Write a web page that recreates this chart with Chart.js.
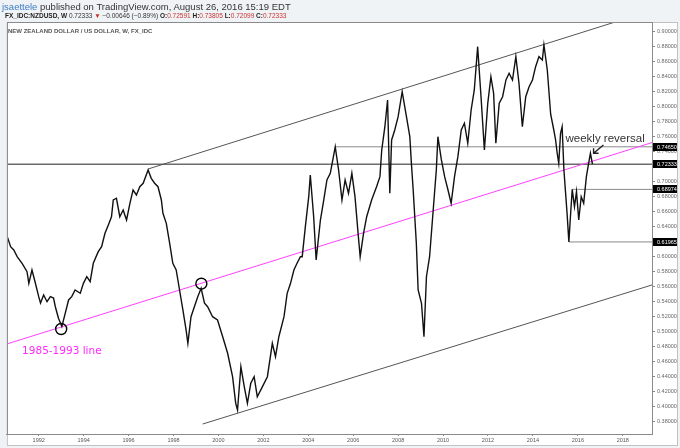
<!DOCTYPE html>
<html>
<head>
<meta charset="utf-8">
<script src="https://cdn.jsdelivr.net/npm/chart.js@4.4.1/dist/chart.umd.min.js"></script>
<style>
  html, body { margin: 0; padding: 0; background: #f0f3f6; }
  #wrap { position: relative; width: 680px; height: 448px; overflow: hidden; }
  #chart { position: absolute; left: 0; top: 0; }
  .txt { position: absolute; white-space: nowrap; font-family: "Liberation Sans", Arial, sans-serif; color: #333; }
  #line1 { left: 2px; top: 1px; font-size: 9.5px; line-height: 11px; }
  #line1 .user { color: #3b7dc4; }
  #line2 { left: 5px; top: 10px; font-size: 6.5px; line-height: 11px; }
  #line2 b { color: #222; }
  #line2 .red { color: #c8312f; }
  #title { left: 8px; top: 27px; font-size: 6px; line-height: 8px; font-weight: bold; color: #555; }
</style>
</head>
<body>
<div id="wrap">
  <canvas id="chart" width="680" height="448"></canvas>
  <div class="txt" id="line1"><span class="user">jsaettele</span> published on TradingView.com, August 26, 2016 15:19 EDT</div>
  <div class="txt" id="line2"><b>FX_IDC:NZDUSD, W</b> 0.72333 <span class="red">▼</span> −0.00646 (−0.89%) <b>O:</b><span class="red">0.72591</span> <b>H:</b><span class="red">0.73805</span> <b>L:</b><span class="red">0.72099</span> <b>C:</b><span class="red">0.72333</span></div>
  <div class="txt" id="title">NEW ZEALAND DOLLAR / US DOLLAR, W, FX_IDC</div>
</div>
<script>
(() => {
  'use strict'

  // weekly close (decimal year, price)
  const priceYears = [
    1990.60, 1990.75, 1990.89, 1991.04, 1991.26, 1991.48, 1991.56, 1991.70, 1991.85, 1992.00,
    1992.08, 1992.22, 1992.37, 1992.52, 1992.66, 1992.74, 1992.88, 1993.03, 1993.18, 1993.33,
    1993.47, 1993.62, 1993.85, 1993.99, 1994.14, 1994.29, 1994.43, 1994.65, 1994.80, 1994.95,
    1995.10, 1995.24, 1995.32, 1995.46, 1995.61, 1995.76, 1995.91, 1996.06, 1996.20, 1996.35,
    1996.50, 1996.65, 1996.87, 1997.01, 1997.16, 1997.31, 1997.46, 1997.53, 1997.68, 1997.83,
    1997.97, 1998.12, 1998.27, 1998.42, 1998.56, 1998.64, 1998.78, 1998.93, 1999.08, 1999.23,
    1999.38, 1999.52, 1999.74, 1999.96, 2000.19, 2000.41, 2000.63, 2000.77, 2000.85, 2001.00,
    2001.15, 2001.29, 2001.44, 2001.59, 2001.73, 2001.96, 2002.18, 2002.40, 2002.54, 2002.69,
    2002.92, 2003.06, 2003.21, 2003.36, 2003.50, 2003.65, 2003.73, 2003.87, 2004.02, 2004.09,
    2004.24, 2004.35, 2004.54, 2004.69, 2004.83, 2004.98, 2005.20, 2005.35, 2005.50, 2005.64,
    2005.79, 2005.94, 2006.08, 2006.23, 2006.31, 2006.46, 2006.60, 2006.82, 2007.04, 2007.19,
    2007.27, 2007.41, 2007.53, 2007.63, 2007.71, 2007.85, 2008.00, 2008.18, 2008.37, 2008.52,
    2008.59, 2008.67, 2008.81, 2008.89, 2009.04, 2009.15, 2009.26, 2009.40, 2009.55, 2009.70,
    2009.77, 2009.92, 2010.07, 2010.22, 2010.36, 2010.51, 2010.66, 2010.81, 2010.95, 2011.10,
    2011.25, 2011.39, 2011.54, 2011.69, 2011.84, 2011.99, 2012.13, 2012.25, 2012.35, 2012.50,
    2012.65, 2012.80, 2012.94, 2013.09, 2013.24, 2013.38, 2013.53, 2013.68, 2013.83, 2013.98,
    2014.12, 2014.27, 2014.42, 2014.49, 2014.64, 2014.79, 2014.93, 2015.01, 2015.08, 2015.15,
    2015.23, 2015.30, 2015.38, 2015.45, 2015.52, 2015.60, 2015.67, 2015.75, 2015.85, 2015.94,
    2016.04, 2016.15, 2016.26, 2016.38, 2016.48, 2016.56, 2016.65
  ]
  const priceValues = [
    0.6267, 0.6133, 0.6089, 0.6000, 0.5912, 0.5800, 0.5645, 0.5823, 0.5649, 0.5467,
    0.5383, 0.5489, 0.5400, 0.5467, 0.5449, 0.5333, 0.5179, 0.5070, 0.5245, 0.5423,
    0.5467, 0.5556, 0.5512, 0.5645, 0.5733, 0.5667, 0.5912, 0.6067, 0.6133, 0.6312,
    0.6423, 0.6533, 0.6756, 0.6779, 0.6533, 0.6623, 0.6489, 0.6712, 0.6889, 0.6823,
    0.6933, 0.6979, 0.7156, 0.7045, 0.6979, 0.6933, 0.6756, 0.6579, 0.6445, 0.6179,
    0.5912, 0.5823, 0.5556, 0.5289, 0.5023, 0.4845, 0.5200, 0.5333, 0.5467, 0.5579,
    0.5379, 0.5333, 0.5200, 0.5156, 0.4933, 0.4712, 0.4400, 0.4045, 0.3956, 0.4533,
    0.4267, 0.4045, 0.4312, 0.4400, 0.4133, 0.4267, 0.4400, 0.4845, 0.4667, 0.4933,
    0.5200, 0.5512, 0.5645, 0.5823, 0.5912, 0.6000, 0.6000, 0.6400, 0.6800, 0.7089,
    0.6533, 0.5956, 0.6489, 0.6756, 0.7023, 0.7112, 0.7465, 0.7156, 0.6756, 0.7023,
    0.6845, 0.7112, 0.6800, 0.6267, 0.6000, 0.6312, 0.6533, 0.6756, 0.6933, 0.7067,
    0.7423, 0.7733, 0.8089, 0.6845, 0.7556, 0.7689, 0.7867, 0.8200, 0.7867, 0.7600,
    0.7245, 0.6889, 0.6179, 0.5556, 0.5379, 0.4933, 0.5733, 0.6000, 0.6579, 0.7156,
    0.7600, 0.7300, 0.7067, 0.6889, 0.6712, 0.7067, 0.7333, 0.7689, 0.7779, 0.7512,
    0.7956, 0.8223, 0.8800, 0.8133, 0.7423, 0.8045, 0.8400, 0.8179, 0.7512, 0.8045,
    0.8133, 0.8356, 0.8445, 0.8356, 0.8667, 0.8312, 0.7733, 0.8133, 0.8267, 0.8356,
    0.8533, 0.8667, 0.8623, 0.8823, 0.8489, 0.7900, 0.7689, 0.7556, 0.7379, 0.7245,
    0.7645, 0.7733, 0.7156, 0.6867, 0.6579, 0.6197, 0.6533, 0.6897, 0.6667, 0.6867,
    0.6489, 0.6800, 0.6712, 0.7067, 0.7245, 0.7380, 0.7233
  ]

  // axis ticks
  const yearTicks = [1992, 1994, 1996, 1998, 2000, 2002, 2004, 2006, 2008, 2010, 2012, 2014, 2016, 2018]
  const priceTicks = [0.38, 0.40, 0.42, 0.44, 0.46, 0.48, 0.50, 0.52, 0.54, 0.56, 0.58, 0.60, 0.62,
    0.64, 0.66, 0.68, 0.70, 0.72, 0.74, 0.76, 0.78, 0.80, 0.82, 0.84, 0.86, 0.88, 0.90]

  // drawn lines: [startYear, startPrice, endYear, endPrice]
  const upperChannel = [1996.87, 0.7169, 2017.66, 0.9129]
  const lowerChannel = [1999.30, 0.3769, 2019.30, 0.5623]
  const line1985 = [1990.58, 0.4836, 2019.30, 0.7521]
  const lastClose = [1990.58, 0.72333, 2019.30, 0.72333]
  const level7465 = [2005.20, 0.74650, 2019.30, 0.74650]
  const level6897 = [2015.75, 0.68974, 2019.30, 0.68974]
  const level6197 = [2015.60, 0.61965, 2019.30, 0.61965]

  // marked turning points
  const circleYears = [1993.00, 1999.24]
  const circleValues = [0.5036, 0.5640]

  // boxed labels on the price axis
  const priceTags = [0.74650, 0.72333, 0.68974, 0.61965]

  const seg = s => [{ x: s[0], y: s[1] }, { x: s[2], y: s[3] }]
  const lineSet = (s, color, order) => ({
    data: seg(s), borderColor: color, borderWidth: 1, pointRadius: 0, order
  })

  const overlay = {
    id: 'overlay',
    beforeDraw(chart) {
      const { ctx, chartArea: a, width, height } = chart
      ctx.save()
      ctx.fillStyle = '#fff'
      ctx.fillRect(a.left, a.top, width - 2 - a.left, height - 2 - a.top)
      ctx.restore()
    },
    afterDraw(chart) {
      const { ctx, chartArea: a, width, height, scales: { x, y } } = chart
      ctx.save()
      ctx.lineWidth = 1
      ctx.strokeStyle = '#c2c2c2'
      ctx.strokeRect(a.left + 0.5, a.top + 0.5, width - 3 - a.left, height - 3 - a.top)
      ctx.strokeStyle = '#8a8a8a'
      ctx.strokeRect(a.left + 0.5, a.top + 0.5, a.right - a.left, a.bottom - a.top)

      ctx.font = '5.5px "Liberation Sans", Arial, sans-serif'
      ctx.textBaseline = 'middle'
      priceTags.forEach(v => {
        const py = Math.round(y.getPixelForValue(v))
        ctx.fillStyle = '#000'
        ctx.fillRect(a.right + 1, py - 4, width - 4 - a.right, 8)
        ctx.fillStyle = '#fff'
        ctx.fillText(v.toFixed(5), a.right + 5, py + 0.5)
      })

      ctx.textBaseline = 'alphabetic'
      ctx.fillStyle = '#ff2bff'
      ctx.font = '10.5px "DejaVu Sans", sans-serif'
      ctx.fillText('1985-1993 line', x.getPixelForValue(1991.26), y.getPixelForValue(0.4699))

      ctx.fillStyle = '#333'
      ctx.font = '11.5px "Liberation Sans", Arial, sans-serif'
      ctx.fillText('weekly reversal', x.getPixelForValue(2015.45), y.getPixelForValue(0.7529))

      // arrow pointing at the reversal bar
      const tx = x.getPixelForValue(2016.70), ty = y.getPixelForValue(0.7379)
      const sx = x.getPixelForValue(2017.14), sy = y.getPixelForValue(0.7489)
      ctx.strokeStyle = '#222'
      ctx.lineWidth = 1.4
      ctx.beginPath()
      ctx.moveTo(sx, sy)
      ctx.lineTo(tx, ty)
      ctx.moveTo(tx, ty - 5)
      ctx.lineTo(tx, ty)
      ctx.lineTo(tx + 5, ty)
      ctx.stroke()
      ctx.restore()
    }
  }

  const ctx = document.getElementById('chart')
  // eslint-disable-next-line no-unused-vars
  const chart = new Chart(ctx, {
    type: 'line',
    data: {
      datasets: [
        {
          data: priceYears.map((t, i) => ({ x: t, y: priceValues[i] })),
          borderColor: '#111',
          borderWidth: 1.4,
          pointRadius: 0,
          tension: 0,
          order: 0
        },
        {
          data: circleYears.map((t, i) => ({ x: t, y: circleValues[i] })),
          showLine: false,
          pointRadius: 5.5,
          pointBorderColor: '#000',
          pointBorderWidth: 1.4,
          pointBackgroundColor: 'rgba(0,0,0,0)',
          order: 1
        },
        lineSet(upperChannel, '#555', 2),
        lineSet(lowerChannel, '#555', 2),
        lineSet(line1985, '#ff40ff', 2),
        lineSet(lastClose, '#222', 3),
        lineSet(level7465, '#8a8a8a', 3),
        lineSet(level6897, '#8a8a8a', 3),
        lineSet(level6197, '#8a8a8a', 3)
      ]
    },
    options: {
      responsive: false,
      animation: false,
      layout: { padding: { left: 3, top: 22, right: 2, bottom: 2 } },
      plugins: {
        legend: { display: false },
        tooltip: { enabled: false }
      },
      scales: {
        x: {
          type: 'linear',
          min: 1990.584,
          max: 2019.301,
          afterBuildTicks: s => { s.ticks = yearTicks.map(v => ({ value: v })) },
          afterFit: s => { s.height = 12 },
          ticks: {
            callback: v => String(v),
            font: { size: 5.5, family: '"Liberation Sans", Arial, sans-serif' },
            color: '#555',
            padding: 1,
            maxRotation: 0,
            autoSkip: false
          },
          grid: { drawOnChartArea: false, tickLength: 2, color: '#8a8a8a' },
          border: { color: '#8a8a8a' }
        },
        y: {
          position: 'right',
          min: 0.3636,
          max: 0.9129,
          afterBuildTicks: s => { s.ticks = priceTicks.map(v => ({ value: v })) },
          afterFit: s => { s.width = 26 },
          ticks: {
            callback: v => v.toFixed(5),
            font: { size: 5.5, family: '"Liberation Sans", Arial, sans-serif' },
            color: '#666',
            padding: 2,
            autoSkip: false
          },
          grid: { drawOnChartArea: false, tickLength: 3, color: '#8a8a8a' },
          border: { color: '#8a8a8a' }
        }
      }
    },
    plugins: [overlay]
  })
})()
</script>
</body>
</html>
